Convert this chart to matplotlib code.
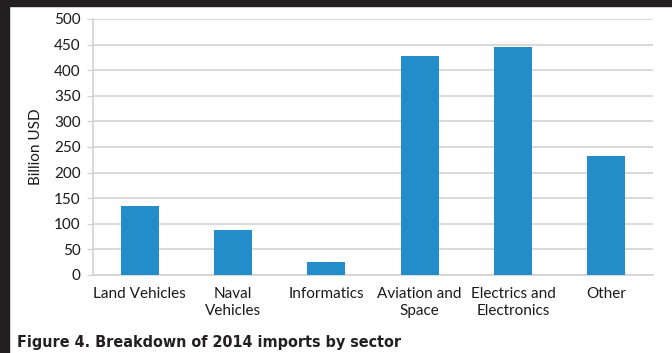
import matplotlib
matplotlib.use("Agg")
import matplotlib.pyplot as plt
from matplotlib.patches import Rectangle

sectors = ["Land Vehicles", "Naval\nVehicles", "Informatics", "Aviation and\nSpace",
           "Electrics and\nElectronics", "Other"]
imports_busd = [135, 88, 25, 428, 445, 232]
y_ticks = [0, 50, 100, 150, 200, 250, 300, 350, 400, 450, 500]

bar_color = "#238dc9"
grid_color = "#d0d0d0"

fig = plt.figure(figsize=(6.72, 3.53), dpi=100)
fig.patch.set_facecolor("white")

# dark frame strips (top and left)
fig.add_artist(Rectangle((0, 1 - 6 / 353), 1, 6 / 353, transform=fig.transFigure,
                         color="#231f20", zorder=0))
fig.add_artist(Rectangle((0, 0), 9 / 672, 1, transform=fig.transFigure,
                         color="#231f20", zorder=0))

ax = fig.add_axes([93 / 672, 1 - 275 / 353, 560 / 672, 256 / 353])
x = range(len(sectors))
ax.bar(x, imports_busd, width=0.41, color=bar_color, zorder=3)

ax.set_ylim(0, 500)
ax.set_xlim(-0.5, len(sectors) - 0.5)
ax.set_yticks(y_ticks)
ax.set_yticklabels([str(v) for v in y_ticks])
ax.set_xticks(list(x))
ax.set_xticklabels(sectors, linespacing=1.2)

ax.yaxis.grid(True, color=grid_color, linewidth=1.1, zorder=0)
for side in ["top", "right"]:
    ax.spines[side].set_visible(False)
for side in ["left", "bottom"]:
    ax.spines[side].set_color(grid_color)
    ax.spines[side].set_linewidth(1.1)

font = ["Lato", "DejaVu Sans"]
ax.tick_params(axis="y", length=4, color=grid_color, labelsize=11, pad=5,
               labelcolor="#1a1a1a")
ax.tick_params(axis="x", length=0, labelsize=11, pad=9, labelcolor="#1a1a1a")
for lbl in ax.get_xticklabels() + ax.get_yticklabels():
    lbl.set_family(font)

ax.set_ylabel("Billion USD", fontsize=11, family=font, color="#1a1a1a", labelpad=8)

fig.text(17 / 672, 1 - 342 / 353, "Figure 4. Breakdown of 2014 imports by sector",
         family=["DejaVu Sans"], fontstretch="condensed", fontweight="bold",
         fontsize=11.5, color="#231f20", va="center", ha="left")

plt.savefig("out.png", dpi=100)
